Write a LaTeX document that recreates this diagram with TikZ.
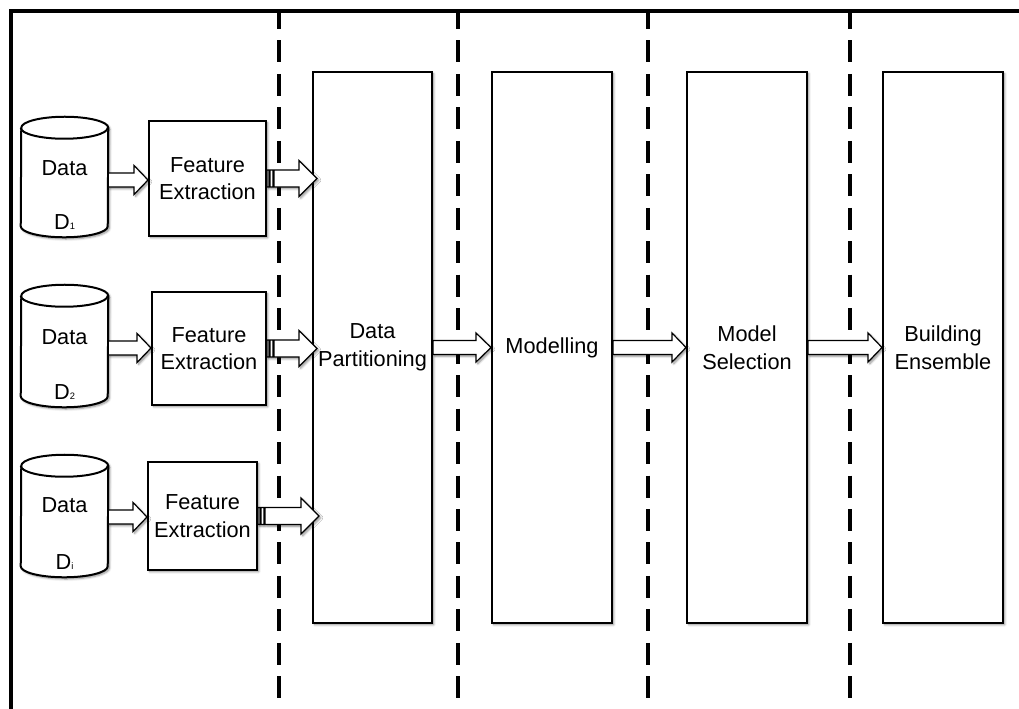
\documentclass[tikz,border=0pt]{standalone}
\usepackage{fontspec}
\setmainfont{Liberation Sans}
\usetikzlibrary{calc,shadows.blur}

% pixel-like units: 1 unit = 0.75pt, y grows upwards (rows use negative y)
\tikzset{
  x=0.75pt, y=0.75pt,
  soft/.style={blur shadow={shadow xshift=1.3pt, shadow yshift=-1.3pt,
      shadow blur radius=1.6pt, shadow blur steps=6, shadow opacity=45}},
  frame/.style={line width=2.6pt, line cap=rect},
  divider/.style={line width=2.6pt, dash pattern=on 16.5pt off 8.6pt, dash phase=3pt},
  stage/.style={draw, line width=1.5pt, fill=white, soft, inner sep=0pt,
      minimum height=413.25pt, align=center, font=\fontsize{16.3}{21}\selectfont},
  febox/.style={draw, line width=1.5pt, fill=white, soft, inner sep=0pt,
      align=center, font=\fontsize{16.3}{20.5}\selectfont},
  drumframe/.style={inner sep=0pt, minimum width=65.25pt},
  drumline/.style={draw, line width=1.5pt, fill=white},
  lbl/.style={inner sep=0pt, font=\fontsize{16.3}{19}\selectfont},
  arrowline/.style={draw, line width=0.9pt, fill=white, line join=miter, soft},
}

% database drum drawn around a named frame node
\newcommand\drum[1]{%
  \path[drumline, soft] ($(#1.south west)+(0,11)$)
      arc[start angle=180, end angle=360, x radius=43.5, y radius=11]
      -- ($(#1.north east)+(0,-11)$)
      arc[start angle=0, end angle=180, x radius=43.5, y radius=11] -- cycle;
  \draw[line width=1.5pt] ($(#1.north west)+(0,-11)$)
      arc[start angle=180, end angle=360, x radius=43.5, y radius=11];}

% block arrow: from, to, shaft half-height, head half-height, head length
\newcommand\blockarrow[5]{%
  \path[arrowline] let \p1=#1, \p2=#2 in
    (\x1,\y1+#3) -- (\x2-#5,\y1+#3) -- (\x2-#5,\y1+#4) -- (\x2,\y1)
    -- (\x2-#5,\y1-#4) -- (\x2-#5,\y1-#3) -- (\x1,\y1-#3) -- cycle;}

% striped block arrow: two thin bars at the tail, then the arrow body
\newcommand\stripedarrow[5]{%
  \path[arrowline] let \p1=#1, \p2=#2 in
    (\x1,\y1+#3) rectangle (\x1+1.5pt,\y1-#3)
    (\x1+2.25pt,\y1+#3) rectangle (\x1+4.5pt,\y1-#3)
    (\x1+5.25pt,\y1+#3) -- (\x2-#5,\y1+#3) -- (\x2-#5,\y1+#4) -- (\x2,\y1)
    -- (\x2-#5,\y1-#4) -- (\x2-#5,\y1-#3) -- (\x1+5.25pt,\y1-#3) -- cycle;}

\newcommand\idx[1]{{\fontsize{7}{7}\selectfont #1}}

\begin{document}
\begin{tikzpicture}
\useasboundingbox (0,0) rectangle (1019,-708);

% outer frame (open on the right and at the bottom)
\coordinate (fbl) at (11,-708);
\coordinate (ftl) at (11,-11);
\coordinate (ftr) at (1019,-11);
\draw[frame] (fbl) -- (ftl) -- (ftr);

% phase separators
\foreach \xx/\nm in {279/s1, 458/s2, 648/s3, 850/s4} {
  \coordinate (\nm top) at (\xx,-11);
  \coordinate (\nm bot) at (\xx,-708);
  \draw[divider] (\nm top) -- (\nm bot);
}

% pipeline stages
\node[stage, minimum width=89.25pt] (dp) at (372.5,-347.5) {Data\\Partitioning};
\node[stage, minimum width=90pt] (mod) at (552,-347.5) {Modelling};
\node[stage, minimum width=90pt] (ms) at (747,-347.5) {Model\\Selection};
\node[stage, minimum width=90pt] (be) at (943,-347.5) {Building\\Ensemble};

% feature extraction boxes
\node[febox, minimum width=87.75pt, minimum height=86.25pt] (fe1) at (207.5,-178.5) {Feature\\Extraction};
\node[febox, minimum width=85.5pt, minimum height=84.75pt] (fe2) at (209,-348.5) {Feature\\Extraction};
\node[febox, minimum width=81.75pt, minimum height=81pt] (fe3) at (202.5,-516) {Feature\\Extraction};

% data sources
\node[drumframe, minimum height=90pt] (c1) at (64.5,-177) {};
\node[drumframe, minimum height=91.5pt] (c2) at (64.5,-346) {};
\node[drumframe, minimum height=91.5pt] (c3) at (64.5,-516) {};
\drum{c1}\drum{c2}\drum{c3}
\node[lbl] (c1a) at ($(c1.center)+(0,9)$) {Data};
\node[lbl] (c1b) at ($(c1.center)+(0,-45)$) {D\idx{1}};
\node[lbl] (c2a) at ($(c2.center)+(0,9)$) {Data};
\node[lbl] (c2b) at ($(c2.center)+(0,-46)$) {D\idx{2}};
\node[lbl] (c3a) at ($(c3.center)+(0,11)$) {Data};
\node[lbl] (c3b) at ($(c3.center)+(0,-46)$) {D\idx{i}};

% data -> feature extraction
\blockarrow{($(c1.east)+(0,-3)$)}{(fe1.west)}{5.25pt}{10.9pt}{10.5pt}
\blockarrow{($(c2.east)+(0,-2)$)}{(fe2.west)}{5.25pt}{10.9pt}{10.5pt}
\blockarrow{($(c3.east)+(0,-1)$)}{(fe3.west)}{5.25pt}{10.9pt}{10.5pt}

% feature extraction -> data partitioning
\stripedarrow{(fe1.east)}{($(fe1.east -| dp.west)+(5,0)$)}{6.4pt}{13.5pt}{13.5pt}
\stripedarrow{(fe2.east)}{($(fe2.east -| dp.west)+(5,0)$)}{6.4pt}{13.5pt}{13.5pt}
\stripedarrow{(fe3.east)}{($(fe3.east -| dp.west)+(7,0)$)}{6.4pt}{13.5pt}{13.5pt}

% stage to stage
\blockarrow{(dp.east)}{(mod.west)}{5.25pt}{10.9pt}{11.25pt}
\blockarrow{(mod.east)}{(ms.west)}{5.25pt}{10.9pt}{10.5pt}
\blockarrow{(ms.east)}{(be.west)}{5.25pt}{10.9pt}{10.5pt}
\end{tikzpicture}
\end{document}
